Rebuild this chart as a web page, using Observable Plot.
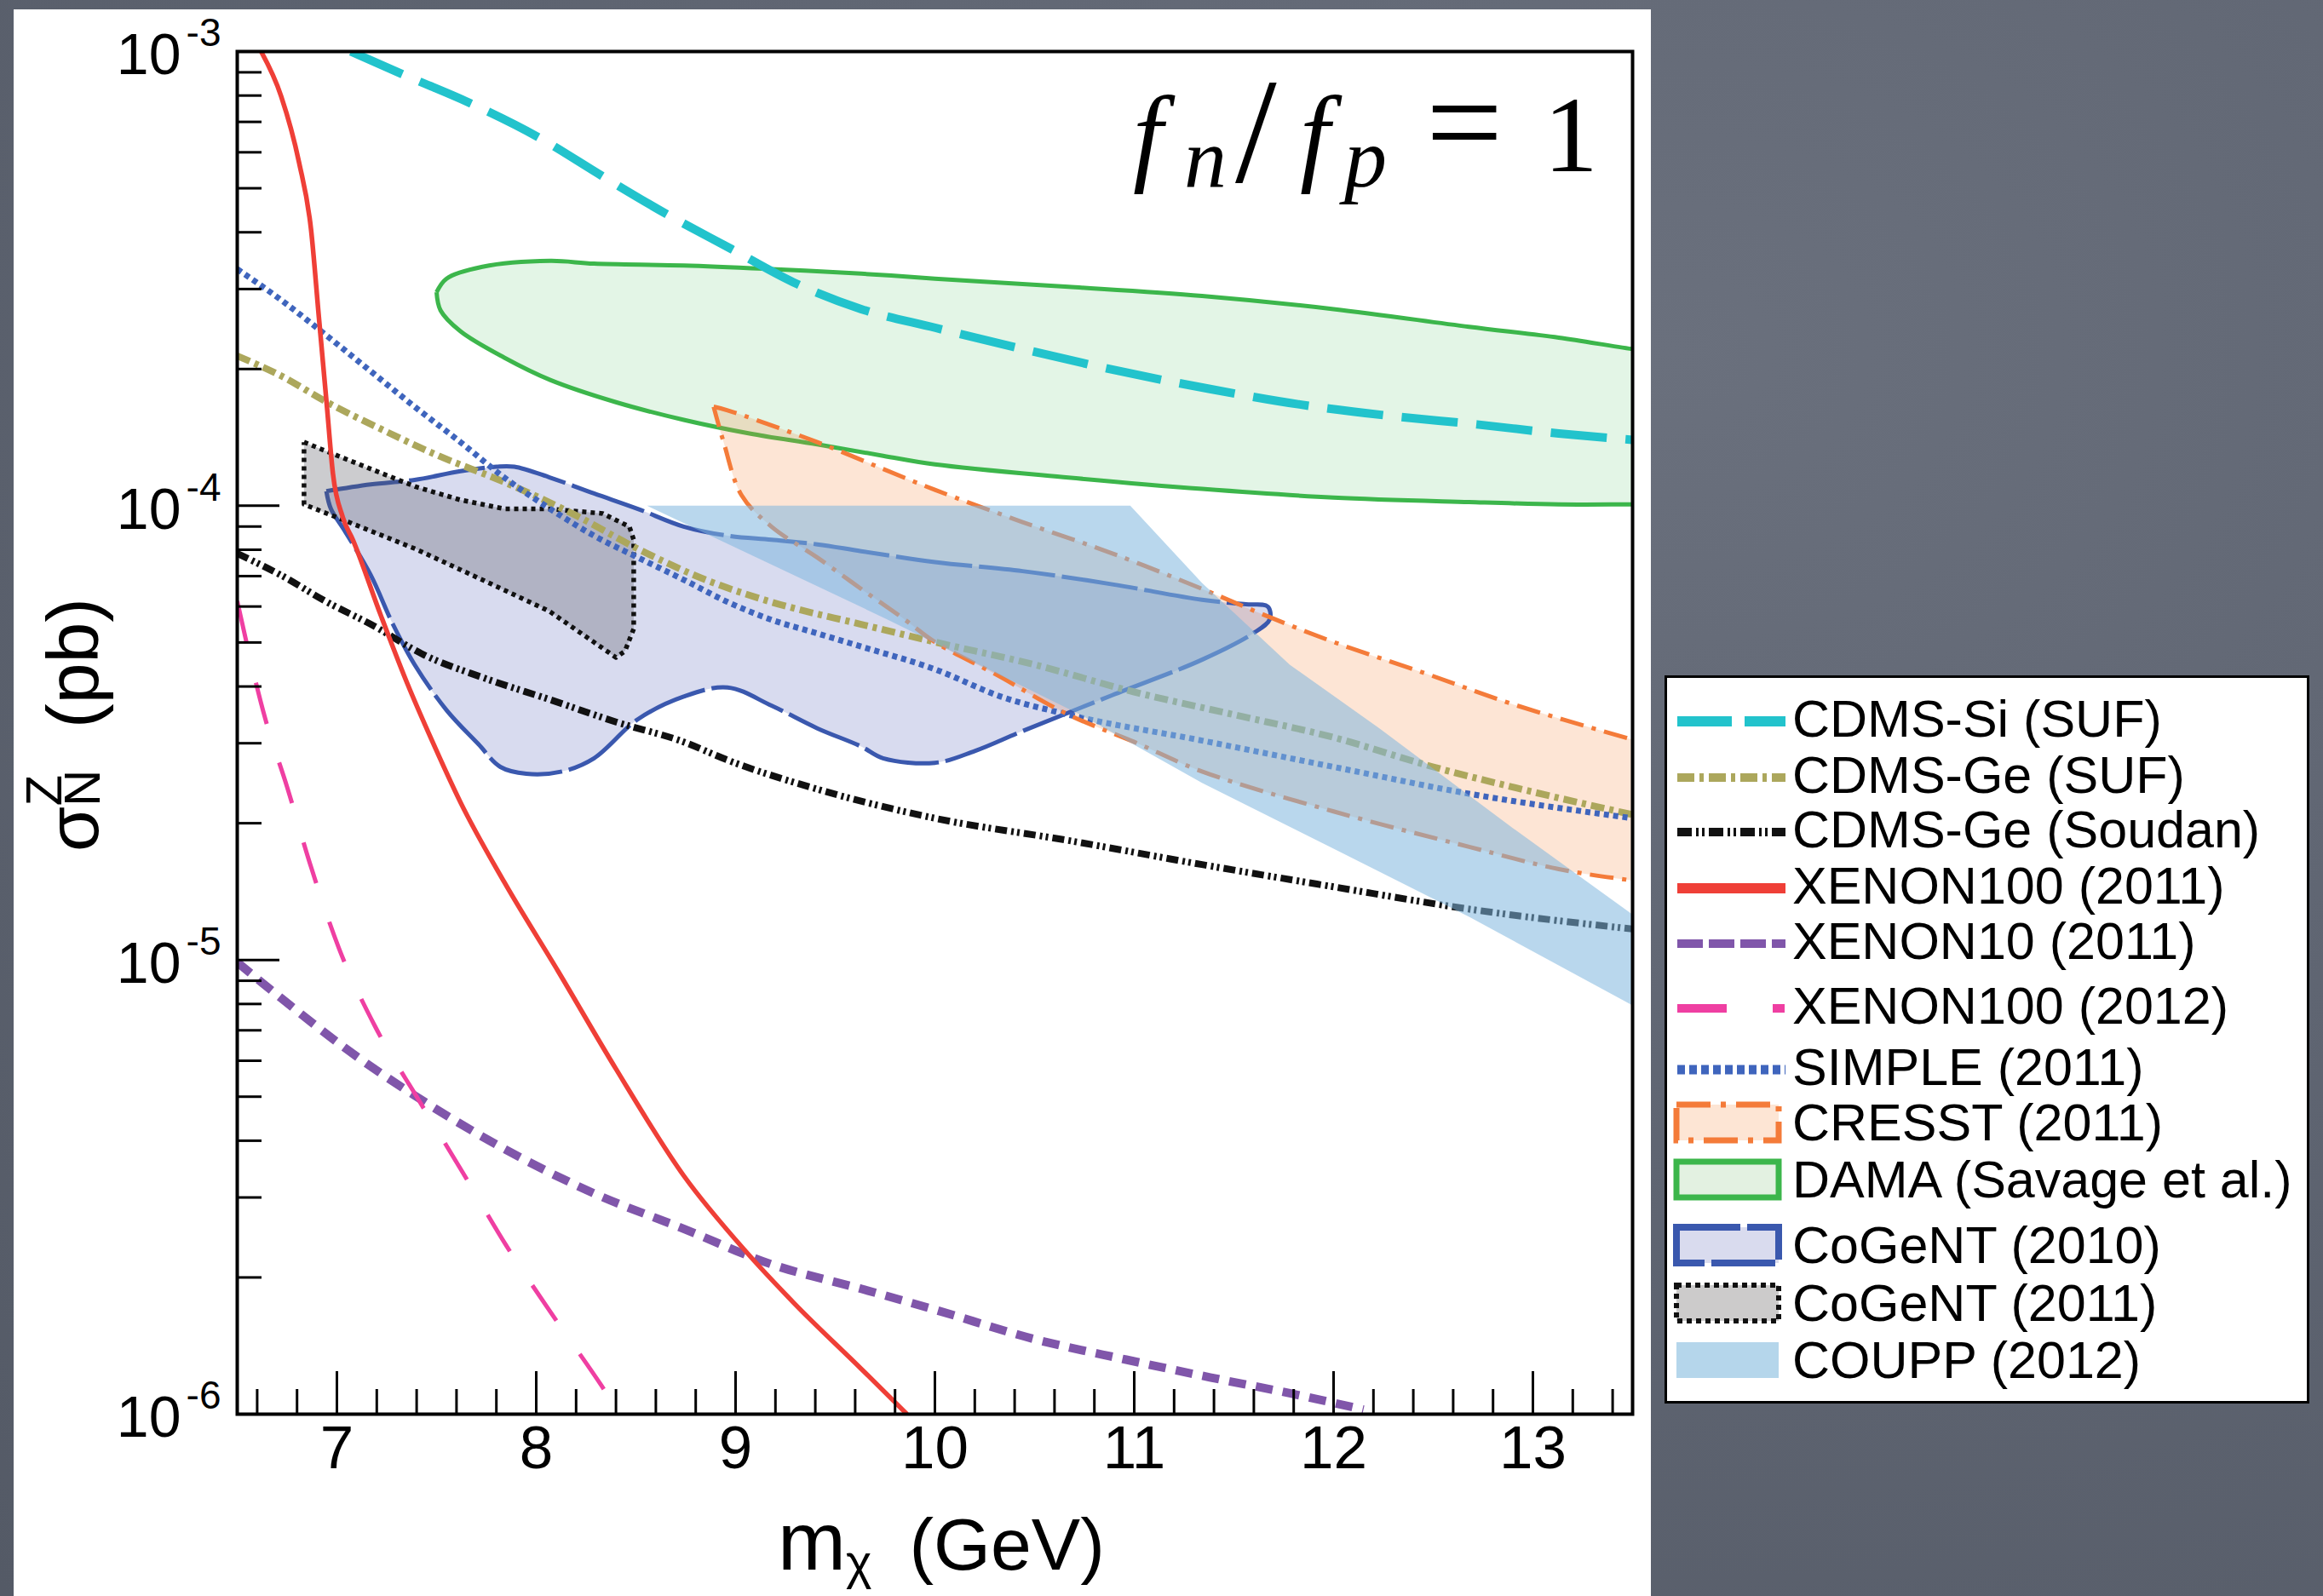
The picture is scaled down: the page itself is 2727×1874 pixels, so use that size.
<!DOCTYPE html>
<html>
<head>
<meta charset="utf-8">
<script src="https://cdn.jsdelivr.net/npm/d3@7"></script>
<script src="https://cdn.jsdelivr.net/npm/@observablehq/plot@0.6"></script>
<style>
  html, body { margin: 0; padding: 0; }
  body {
    width: 2727px; height: 1874px; overflow: hidden; position: relative;
    background: radial-gradient(ellipse at 72% 22%, #6a707d 0%, #5f6572 45%, #545a66 100%);
    font-family: "Liberation Sans", Arial, Helvetica, sans-serif;
  }
  #chart { position: absolute; left: 16px; top: 11px; }
  #legend { position: absolute; left: 1954px; top: 793px; }
</style>
</head>
<body>
<div id="chart"></div>
<div id="legend"></div>
<script>
// Spin-independent WIMP-nucleon cross section limits and signal regions, f_n/f_p = 1.
// Each curve is a list of [m_chi (GeV), log10(sigma / pb)].

const cdmsSiSUF = [[7.07,-3.0],[7.35,-3.054],[7.66,-3.112],[8.02,-3.191],[8.33,-3.274],[8.65,-3.357],[8.98,-3.435],[9.29,-3.508],[9.63,-3.567],[10.0,-3.608],[10.44,-3.655],[10.93,-3.704],[11.38,-3.743],[11.83,-3.777],[12.28,-3.802],[12.72,-3.821],[13.13,-3.841],[13.5,-3.855]];

const cdmsGeSUF = [[6.5,-3.67],[6.72,-3.714],[6.95,-3.772],[7.22,-3.831],[7.51,-3.89],[7.84,-3.948],[8.18,-4.017],[8.51,-4.095],[8.85,-4.163],[9.18,-4.212],[9.63,-4.261],[10.0,-4.30],[10.5,-4.35],[11.0,-4.41],[11.5,-4.46],[12.0,-4.51],[12.5,-4.575],[13.0,-4.63],[13.5,-4.68]];

const cdmsGeSoudan = [[6.5,-4.105],[6.72,-4.153],[6.95,-4.212],[7.17,-4.261],[7.44,-4.329],[7.73,-4.378],[8.07,-4.427],[8.4,-4.476],[8.74,-4.52],[8.96,-4.56],[9.41,-4.624],[10.0,-4.688],[10.67,-4.737],[11.34,-4.79],[12.0,-4.839],[12.68,-4.888],[13.5,-4.932]];

const xenon100_2011 = [[6.62,-3.0],[6.72,-3.098],[6.81,-3.244],[6.87,-3.391],[6.91,-3.587],[6.95,-3.782],[6.98,-3.929],[7.03,-4.026],[7.08,-4.075],[7.22,-4.241],[7.35,-4.388],[7.48,-4.52],[7.62,-4.653],[7.84,-4.829],[8.11,-5.025],[8.40,-5.24],[8.74,-5.475],[9.05,-5.641],[9.29,-5.754],[9.63,-5.9],[9.86,-6.0]];

const xenon10_2011 = [[6.5,-5.005],[6.72,-5.084],[7.06,-5.2],[7.46,-5.318],[7.84,-5.416],[8.29,-5.514],[8.74,-5.592],[9.18,-5.67],[9.63,-5.724],[10.0,-5.77],[10.51,-5.836],[10.96,-5.88],[11.38,-5.919],[11.78,-5.954],[12.15,-5.99]];

const xenon100_2012 = [[6.5,-4.21],[6.64,-4.468],[6.75,-4.619],[6.87,-4.795],[7.01,-4.974],[7.19,-5.145],[7.41,-5.308],[7.63,-5.467],[7.85,-5.629],[8.09,-5.787],[8.33,-5.939],[8.42,-6.0]];

const simple2011 = [[6.5,-3.479],[6.72,-3.547],[6.95,-3.626],[7.17,-3.704],[7.39,-3.782],[7.62,-3.86],[7.84,-3.938],[8.07,-4.007],[8.29,-4.066],[8.51,-4.114],[8.74,-4.163],[8.96,-4.212],[9.18,-4.251],[9.41,-4.281],[9.63,-4.31],[10.0,-4.36],[10.33,-4.42],[10.67,-4.46],[11.34,-4.517],[12.0,-4.575],[12.68,-4.634],[13.5,-4.688]];

// Closed regions (outline traced once around)
const cresst2011 = [[8.89,-3.782],[8.96,-3.79],[9.41,-3.86],[9.74,-3.919],[10.0,-3.965],[10.44,-4.036],[10.89,-4.105],[11.34,-4.183],[11.65,-4.24],[12.0,-4.3],[12.46,-4.369],[12.9,-4.437],[13.5,-4.515],[13.7,-4.54],
  [13.7,-4.835],[13.5,-4.825],[13.13,-4.8],[12.68,-4.751],[12.0,-4.673],[11.34,-4.585],[11.0,-4.52],[10.67,-4.46],[10.3,-4.37],[10.0,-4.30],[9.85,-4.251],[9.63,-4.183],[9.41,-4.114],[9.18,-4.046],[9.03,-3.977],[8.94,-3.86]];

const damaSavage = [[7.5,-3.53],[7.55,-3.50],[7.73,-3.474],[8.07,-3.461],[8.29,-3.467],[8.74,-3.471],[9.18,-3.479],[9.63,-3.489],[10.0,-3.5],[10.67,-3.518],[11.34,-3.538],[12.0,-3.567],[12.68,-3.606],[13.13,-3.63],[13.5,-3.655],[13.7,-3.665],
  [13.7,-3.997],[13.5,-3.997],[13.13,-3.997],[12.68,-3.992],[12.0,-3.982],[11.34,-3.963],[10.67,-3.938],[10.0,-3.909],[9.74,-3.89],[9.41,-3.865],[9.07,-3.841],[8.74,-3.811],[8.4,-3.772],[8.07,-3.723],[7.84,-3.674],[7.62,-3.616],[7.52,-3.57]];

const cogent2010 = [[6.947,-3.968],[7.17,-3.953],[7.39,-3.943],[7.62,-3.924],[7.80,-3.914],[7.89,-3.914],[8.07,-3.938],[8.29,-3.973],[8.51,-4.007],[8.74,-4.046],[8.96,-4.066],[9.18,-4.075],[9.41,-4.085],[9.63,-4.10],[10.0,-4.124],[10.44,-4.144],[10.89,-4.173],[11.34,-4.207],[11.56,-4.217],[11.67,-4.222],[11.68,-4.25],[11.6,-4.28],
  [11.34,-4.339],[10.89,-4.417],[10.44,-4.496],[10.2,-4.54],[10.0,-4.566],[9.74,-4.556],[9.63,-4.53],[9.41,-4.49],[9.18,-4.44],[8.96,-4.40],[8.74,-4.42],[8.51,-4.47],[8.29,-4.556],[8.13,-4.585],[7.95,-4.59],[7.82,-4.575],[7.71,-4.525],[7.55,-4.45],[7.39,-4.35],[7.28,-4.26],[7.17,-4.153],[7.04,-4.056],[6.97,-4.007]];

const cogent2011 = [[6.835,-3.86],[6.947,-3.88],[7.17,-3.919],[7.394,-3.958],[7.618,-3.987],[7.841,-4.007],[8.065,-4.007],[8.333,-4.017],[8.467,-4.046],[8.489,-4.075],[8.489,-4.271],[8.445,-4.32],[8.4,-4.334],[8.288,-4.3],[8.065,-4.232],[7.729,-4.163],[7.394,-4.095],[7.059,-4.036],[6.835,-3.997]];

const coupp2012 = [[8.556,-4.0],[10.98,-4.0],[11.34,-4.17],[11.78,-4.35],[12.23,-4.49],[12.9,-4.71],[13.5,-4.90],[13.7,-4.96],
  [13.7,-5.15],[13.5,-5.10],[12.68,-4.905],[12.0,-4.755],[11.34,-4.61],[10.73,-4.46],[9.76,-4.25]];

// Axis ticks and labels
const massTicks = [7, 8, 9, 10, 11, 12, 13];
const massMinorTicks = d3.range(33, 68).filter(i => i % 5 !== 0).map(i => i / 5);
const sigmaDecades = [1e-3, 1e-4, 1e-5, 1e-6];
const sigmaExponents = ["-3", "-4", "-5", "-6"];
const sigmaMinorTicks = [-6, -5, -4].flatMap(e => d3.range(2, 10).map(k => k * 10 ** e));

const legendNames = ["CDMS-Si (SUF)", "CDMS-Ge (SUF)", "CDMS-Ge (Soudan)", "XENON100 (2011)", "XENON10 (2011)", "XENON100 (2012)", "SIMPLE (2011)", "CRESST (2011)", "DAMA (Savage et al.)", "CoGeNT (2010)", "CoGeNT (2011)", "COUPP (2012)"];

// ---- styling ----
const FONT = "'Liberation Sans', Arial, Helvetica, sans-serif";
const style = {
  "CDMS-Si (SUF)":        {color: "#22c3cc", width: 10, dash: "66,22", lw: 12, ldash: "64,15"},
  "CDMS-Ge (SUF)":        {color: "#aca75c", width: 8, dash: "16,6,5,6", lw: 10, ldash: "20,6,5,6"},
  "CDMS-Ge (Soudan)":     {color: "#111111", width: 8, dash: "14,5,3,4,3,5", lw: 10, ldash: "17,5,3,4,3,5"},
  "XENON100 (2011)":      {color: "#ef3f37", width: 5.5, lw: 12},
  "XENON10 (2011)":       {color: "#8056aa", width: 10, dash: "20,12", lw: 10, ldash: "30,7"},
  "XENON100 (2012)":      {color: "#ef3fa2", width: 5, dash: "50,48", lw: 10, ldash: "58,54,14,200"},
  "SIMPLE (2011)":        {color: "#3f65bd", width: 7, dash: "6,5", lw: 11, ldash: "9,5"},
  "CRESST (2011)":        {color: "#f47b39", width: 5, dash: "28,10,5,10", fill: "#f78a40", op: 0.22, box: true, lw: 7, ldash: "40,12,6,12", lfill: "#fde5d4"},
  "DAMA (Savage et al.)": {color: "#3cb64b", width: 5, fill: "#3cb64b", op: 0.14, box: true, lw: 7, lfill: "#e3f1e1"},
  "CoGeNT (2010)":        {color: "#3a58ae", width: 5, dash: "90,8", fill: "#3a4cb0", op: 0.2, box: true, lw: 8, ldash: "75,8", lfill: "#d9dbee"},
  "CoGeNT (2011)":        {color: "#111111", width: 5.5, dash: "5,5", fill: "#555560", op: 0.3, box: true, lw: 6, ldash: "6,5", lfill: "#cccbcb"},
  "COUPP (2012)":         {color: null, fill: "#7fb6df", op: 0.55, box: true, lfill: "#b5d6eb"}
};

const W = 1922, H = 1863;
const M = {left: 262, right: 22, top: 49, bottom: 214};
const plotW = W - M.left - M.right;
const plotH = H - M.top - M.bottom;

const pts = arr => arr.map(([m, lg]) => ({m, s: 10 ** lg}));
const closedPts = arr => pts([...arr, arr[0]]);

function curve(arr, name) {
  const st = style[name];
  return Plot.line(pts(arr), {
    x: "m", y: "s", curve: "monotone-x", clip: true,
    stroke: st.color, strokeWidth: st.width, strokeDasharray: st.dash,
    strokeLinecap: "butt", strokeLinejoin: "round"
  });
}
function region(arr, name, {outline = true, smooth = true} = {}) {
  const st = style[name];
  return Plot.line(closedPts(arr), {
    x: "m", y: "s", curve: smooth ? "catmull-rom" : "linear", clip: true,
    fill: st.fill, fillOpacity: st.op,
    stroke: outline && st.color ? st.color : "none",
    strokeWidth: st.width, strokeDasharray: st.dash,
    strokeLinecap: "butt", strokeLinejoin: "round"
  });
}
function outline(arr, name) {
  const st = style[name];
  return Plot.line(closedPts(arr), {
    x: "m", y: "s", curve: "catmull-rom", clip: true, fill: "none",
    stroke: st.color, strokeWidth: st.width, strokeDasharray: st.dash,
    strokeLinecap: "butt", strokeLinejoin: "round"
  });
}

const yLabels = sigmaDecades.map((v, i) => ({v, exp: sigmaExponents[i]}));

const plot = Plot.plot({
  width: W, height: H,
  marginLeft: M.left, marginRight: M.right, marginTop: M.top, marginBottom: M.bottom,
  style: {background: "white", fontFamily: FONT, color: "black", overflow: "visible"},
  x: {domain: [6.5, 13.5], axis: null},
  y: {type: "log", domain: [1e-6, 1e-3], axis: null},
  marks: [
    region(damaSavage, "DAMA (Savage et al.)"),
    region(cresst2011, "CRESST (2011)", {outline: false}),
    region(cogent2010, "CoGeNT (2010)"),
    region(cogent2011, "CoGeNT (2011)", {smooth: false}),
    curve(cdmsSiSUF, "CDMS-Si (SUF)"),
    curve(cdmsGeSUF, "CDMS-Ge (SUF)"),
    curve(cdmsGeSoudan, "CDMS-Ge (Soudan)"),
    curve(simple2011, "SIMPLE (2011)"),
    curve(xenon10_2011, "XENON10 (2011)"),
    curve(xenon100_2012, "XENON100 (2012)"),
    outline(cresst2011, "CRESST (2011)"),
    region(coupp2012, "COUPP (2012)", {outline: false, smooth: false}),
    curve(xenon100_2011, "XENON100 (2011)"),

    // inward ticks on the bottom and left edges
    Plot.ruleX(massTicks, {insetTop: plotH - 50, stroke: "black", strokeWidth: 3}),
    Plot.ruleX(massMinorTicks, {insetTop: plotH - 29, stroke: "black", strokeWidth: 3}),
    Plot.ruleY(sigmaDecades, {insetRight: plotW - 50, stroke: "black", strokeWidth: 3}),
    Plot.ruleY(sigmaMinorTicks, {insetRight: plotW - 29, stroke: "black", strokeWidth: 3}),
    Plot.frame({stroke: "black", strokeWidth: 4}),

    // tick labels
    Plot.text(massTicks, {x: d => d, y: () => 1e-6, text: d => String(d), dy: 41, fontSize: 71, lineAnchor: "middle", fill: "black"}),
    Plot.text(yLabels, {x: () => 6.5, y: "v", text: () => "10", textAnchor: "end", dx: -66, dy: 5, fontSize: 68, lineAnchor: "middle", fill: "black"}),
    Plot.text(yLabels, {x: () => 6.5, y: "v", text: "exp", textAnchor: "end", dx: -19, dy: -21, fontSize: 46, lineAnchor: "middle", fill: "black"})
  ]
});
document.getElementById("chart").append(plot);

// ---- axis titles and the f_n/f_p annotation ----
const svg = d3.select(plot);
const xs = plot.scale("x"), ys = plot.scale("y");
const frameL = xs.apply(6.5), frameR = xs.apply(13.5);
const frameT = ys.apply(1e-3), frameB = ys.apply(1e-6);

// x title: m_chi (GeV)
const xt = svg.append("text")
  .attr("text-anchor", "start")
  .attr("x", (frameL + frameR) / 2 - 184).attr("y", frameB + 183)
  .attr("font-family", FONT).attr("font-size", 86).attr("fill", "black");
xt.append("tspan").attr("font-size", 96).text("m");
xt.append("tspan").attr("font-size", 58).attr("dy", 11).text("\u03c7");
xt.append("tspan").attr("dy", -11).attr("dx", 44).text("(GeV)");

// y title: sigma_N^Z (pb), rotated
const yt = svg.append("text")
  .attr("text-anchor", "start")
  .attr("transform", `translate(${frameL - 163},${frameT + 940}) rotate(-90)`)
  .attr("font-family", FONT).attr("font-size", 86).attr("fill", "black");
yt.append("tspan").text("\u03c3");
yt.append("tspan").attr("font-size", 60).attr("dy", 2).text("N");
yt.append("tspan").attr("font-size", 60).attr("dx", -43).attr("dy", -45).text("Z");
yt.append("tspan").attr("dx", 55).attr("dy", 43).text("(pb)");

// annotation: f_n / f_p = 1
const mathLeft = frameR - 592, mathBase = frameT + 141;
const math = svg.append("text")
  .attr("text-anchor", "start")
  .attr("font-family", "'Liberation Serif', 'DejaVu Serif', serif").attr("fill", "black");
[
  {t: "f", dx: 6, it: true, size: 126},
  {t: "n", dx: 66, it: true, size: 100, sub: 18},
  {t: "/", dx: 126, size: 175, lift: 12},
  {t: "f", dx: 202, it: true, size: 126},
  {t: "p", dx: 254, it: true, size: 100, sub: 18},
  {t: "=", dx: 350, size: 160, lift: -4},
  {t: "1", dx: 488, size: 128}
].forEach(p => {
  math.append("tspan")
    .attr("x", mathLeft + p.dx).attr("y", mathBase + (p.sub || 0) + (p.lift || 0))
    .attr("font-style", p.it ? "italic" : "normal")
    .attr("font-size", p.size).text(p.t);
});

// ---- legend ----
const LW = 757, LH = 855;
const legendRowY = [51, 117, 181, 247, 312, 388, 460, 525, 592, 669, 737, 804];
const lg = d3.select("#legend").append("svg").attr("width", LW).attr("height", LH);
lg.append("rect").attr("x", 1.5).attr("y", 1.5).attr("width", LW - 3).attr("height", LH - 3)
  .attr("fill", "white").attr("stroke", "black").attr("stroke-width", 3);
legendNames.forEach((name, i) => {
  const st = style[name], cy = legendRowY[i];
  if (st.box) {
    lg.append("rect").attr("x", 14).attr("y", cy - 21).attr("width", 120).attr("height", 42)
      .attr("fill", st.lfill)
      .attr("stroke", st.color || "none").attr("stroke-width", st.lw || 0)
      .attr("stroke-dasharray", st.ldash || null);
  } else {
    lg.append("line").attr("x1", 15).attr("x2", 142).attr("y1", cy + 3).attr("y2", cy + 3)
      .attr("stroke", st.color).attr("stroke-width", st.lw)
      .attr("stroke-dasharray", st.ldash || null);
  }
  lg.append("text").attr("x", 150).attr("y", cy + 21)
    .attr("font-family", FONT).attr("font-size", 61).attr("fill", "black").text(name);
});
</script>
</body>
</html>
